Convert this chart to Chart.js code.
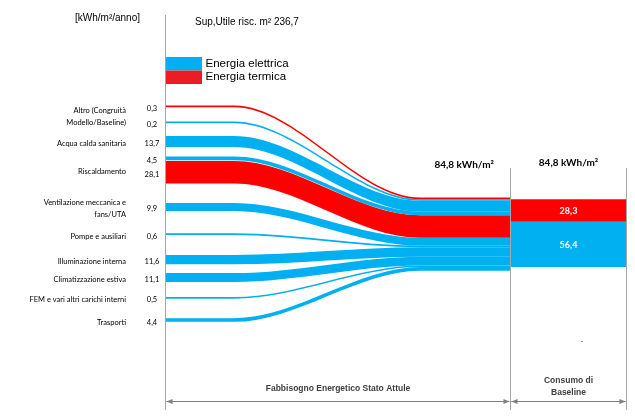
<!DOCTYPE html>
<html>
<head>
<meta charset="utf-8">
<script src="https://cdn.jsdelivr.net/npm/chart.js@4.4.1/dist/chart.umd.min.js"></script>
<style>
    html, body { margin: 0; padding: 0; background: #ffffff; }
    canvas { display: block; }
</style>
</head>
<body>
<canvas id="sankeyChart" width="635" height="416"></canvas>
<script>
const CATEGORIES = [
    'Altro (Congruità\nModello/Baseline)',
    'Acqua calda sanitaria',
    'Riscaldamento',
    'Ventilazione meccanica e\nfans/UTA',
    'Pompe e ausiliari',
    'Illuminazione interna',
    'Climatizzazione estiva',
    'FEM e vari altri carichi interni',
    'Trasporti'
];

// one entry for each flow, top to bottom
const FLOW_CATEGORY = [0, 0, 1, 2, 2, 3, 4, 5, 6, 7, 8];
const FLOW_CARRIER  = ['T', 'E', 'E', 'E', 'T', 'E', 'E', 'E', 'E', 'E', 'E'];
const FLOW_VALUES   = [0.3, 0.2, 13.7, 4.5, 28.1, 9.9, 0.6, 11.6, 11.1, 0.5, 4.4];

const BASELINE_CARRIER = ['T', 'E'];
const BASELINE_VALUES  = [28.3, 56.4];

const TOTALS = [84.8, 84.8];

const CARRIER_NAMES = { E: 'Energia elettrica', T: 'Energia termica' };

const COLORS = {
    E: '#00B0F0',
    T: '#FF0000',
    legendT: '#ED1C24',
    axis: '#A6A6A6',
    text: '#000000',
    bottomText: '#404040'
};

// y in kWh units (0.8 px each), x in stage units (0 = left axis, 1 = divider)
const LAYOUT = {
    yMax: 520,
    xMax: 1.339,
    curveStart: 0.2,
    curveEnd: 0.74,
    divider: 1,
    leftTop: 132,
    leftGaps: [18, 16, 12, 1, 24.5, 28, 25, 11, 19, 24.5],
    rightTop: 247,
    barTop: 249,
    minThickness: 2
};

const flowGeometry = [];

function fmt(value) {
    return value.toFixed(1).replace('.', ',');
}

function flowEdge(yLeft, yRight, color, fill) {
    return {
        data: [
            { x: 0, y: yLeft },
            { x: LAYOUT.curveStart, y: yLeft },
            { x: LAYOUT.curveEnd, y: yRight },
            { x: LAYOUT.divider, y: yRight }
        ],
        borderColor: 'rgba(0,0,0,0)',
        borderWidth: 1,
        backgroundColor: color,
        fill: fill,
        cubicInterpolationMode: 'monotone',
        pointRadius: 0
    };
}

function barEdge(y, color, fill) {
    return {
        data: [{ x: LAYOUT.divider, y: y }, { x: LAYOUT.xMax, y: y }],
        borderColor: 'rgba(0,0,0,0)',
        borderWidth: 1,
        backgroundColor: color,
        fill: fill,
        tension: 0,
        pointRadius: 0
    };
}

function buildDatasets() {
    let datasets = [];
    let leftTop = LAYOUT.leftTop;
    let rightTop = LAYOUT.rightTop;

    FLOW_VALUES.forEach((value, i) => {
        const thick = Math.max(value, LAYOUT.minThickness);
        const color = COLORS[FLOW_CARRIER[i]];

        if (i > 0)
            leftTop += LAYOUT.leftGaps[i - 1];

        datasets.push(flowEdge(leftTop, rightTop, color, false));
        datasets.push(flowEdge(leftTop + thick, rightTop + thick, color, '-1'));
        flowGeometry.push({ top: leftTop, bottom: leftTop + thick });

        leftTop += thick;
        rightTop += thick;
    });

    let barTop = LAYOUT.barTop;
    BASELINE_VALUES.forEach((value, i) => {
        const color = COLORS[BASELINE_CARRIER[i]];
        datasets.push(barEdge(barTop, color, false));
        datasets.push(barEdge(barTop + value, color, '-1'));
        barTop += value;
    });

    return datasets;
}

function drawArrow(ctx, x1, x2, y) {
    ctx.beginPath();
    ctx.moveTo(x1, y);
    ctx.lineTo(x2, y);
    ctx.stroke();

    [[x1, 1], [x2, -1]].forEach(([x, dir]) => {
        ctx.beginPath();
        ctx.moveTo(x, y);
        ctx.lineTo(x + dir * 6, y - 2.5);
        ctx.lineTo(x + dir * 6, y + 2.5);
        ctx.closePath();
        ctx.fill();
    });
}

const annotationsPlugin = {
    id: 'annotations',
    afterDraw(chart) {
        const ctx = chart.ctx;
        const xs = chart.scales.x;
        const ys = chart.scales.y;
        const left = xs.getPixelForValue(0);
        const divider = Math.round(xs.getPixelForValue(LAYOUT.divider)) + 0.5;
        const right = Math.round(xs.getPixelForValue(LAYOUT.xMax)) - 0.5;
        const axisX = Math.round(left) + 0.5;

        ctx.save();

        // axis and divider lines
        ctx.strokeStyle = COLORS.axis;
        ctx.fillStyle = COLORS.axis;
        ctx.lineWidth = 1;
        ctx.beginPath();
        ctx.moveTo(axisX, 15);
        ctx.lineTo(axisX, 410);
        ctx.moveTo(divider, 168);
        ctx.lineTo(divider, 410);
        ctx.moveTo(right, 168);
        ctx.lineTo(right, 410);
        ctx.stroke();

        ctx.strokeStyle = '#7F7F7F';
        ctx.fillStyle = '#7F7F7F';
        drawArrow(ctx, axisX + 1, divider - 1, 401.5);
        drawArrow(ctx, divider + 1, right - 1, 401.5);

        // titles
        ctx.fillStyle = COLORS.text;
        ctx.textBaseline = 'middle';
        ctx.textAlign = 'left';
        ctx.font = '10px "Liberation Sans", Arial, sans-serif';
        ctx.fillText('[kWh/m²/anno]', 75, 18);
        ctx.fillText('Sup,Utile risc. m² 236,7', 195, 22);

        // legend
        ['E', 'T'].forEach((key, i) => {
            ctx.fillStyle = key === 'T' ? COLORS.legendT : COLORS[key];
            ctx.fillRect(axisX + 0.5, 57 + i * 13.5, 36, 13.5);
            ctx.fillStyle = COLORS.text;
            ctx.font = '11.5px "Liberation Sans", Arial, sans-serif';
            ctx.fillText(CARRIER_NAMES[key], axisX + 40, 63.5 + i * 13);
        });

        // category labels
        ctx.font = '7.5px Lato, sans-serif';
        ctx.textAlign = 'right';
        CATEGORIES.forEach((name, c) => {
            const flows = flowGeometry.filter((g, i) => FLOW_CATEGORY[i] === c);
            const top = ys.getPixelForValue(flows[0].top);
            const bottom = ys.getPixelForValue(flows[flows.length - 1].bottom);
            const lines = name.split('\n');
            const mid = (top + bottom) / 2 + 2;
            lines.forEach((line, k) => {
                ctx.fillText(line, left - 39, mid + (k - (lines.length - 1) / 2) * 12);
            });
        });

        // flow values
        ctx.textAlign = 'center';
        FLOW_VALUES.forEach((value, i) => {
            const g = flowGeometry[i];
            const y = ys.getPixelForValue((g.top + g.bottom) / 2) + 2;
            ctx.fillText(fmt(value), left - 13, y);
        });

        // totals
        ctx.font = 'bold 10px Lato, sans-serif';
        ctx.fillText(fmt(TOTALS[0]) + ' kWh/m²', xs.getPixelForValue(0.867), 165);
        ctx.fillText(fmt(TOTALS[1]) + ' kWh/m²', (divider + right) / 2, 163);

        // baseline bar values
        ctx.fillStyle = '#FFFFFF';
        ctx.font = 'bold 9px Lato, sans-serif';
        let barTop = LAYOUT.barTop;
        BASELINE_VALUES.forEach((value) => {
            ctx.fillText(fmt(value), (divider + right) / 2, ys.getPixelForValue(barTop + value / 2) + 1);
            barTop += value;
        });

        // bottom captions
        ctx.fillStyle = COLORS.bottomText;
        ctx.font = 'bold 8.5px "Liberation Sans", Arial, sans-serif';
        ctx.fillText('Fabbisogno Energetico Stato Attule', (axisX + divider) / 2, 389);
        ctx.fillText('Consumo di', (divider + right) / 2, 381);
        ctx.fillText('Baseline', (divider + right) / 2, 393);
        ctx.fillStyle = '#999999';
        ctx.fillRect(581, 341, 2, 1);

        ctx.restore();
    }
};

function initChart() {
    new Chart(document.getElementById('sankeyChart'), {
        type: 'line',
        data: { datasets: buildDatasets() },
        plugins: [annotationsPlugin],
        options: {
            responsive: false,
            animation: false,
            devicePixelRatio: 1,
            layout: { padding: { left: 165, right: 8, top: 0, bottom: 0 } },
            scales: {
                x: { type: 'linear', min: 0, max: LAYOUT.xMax, display: false },
                y: { type: 'linear', min: 0, max: LAYOUT.yMax, reverse: true, display: false }
            },
            plugins: {
                legend: { display: false },
                tooltip: { enabled: false },
                filler: { propagate: false }
            }
        }
    });
}

initChart();
</script>
</body>
</html>
